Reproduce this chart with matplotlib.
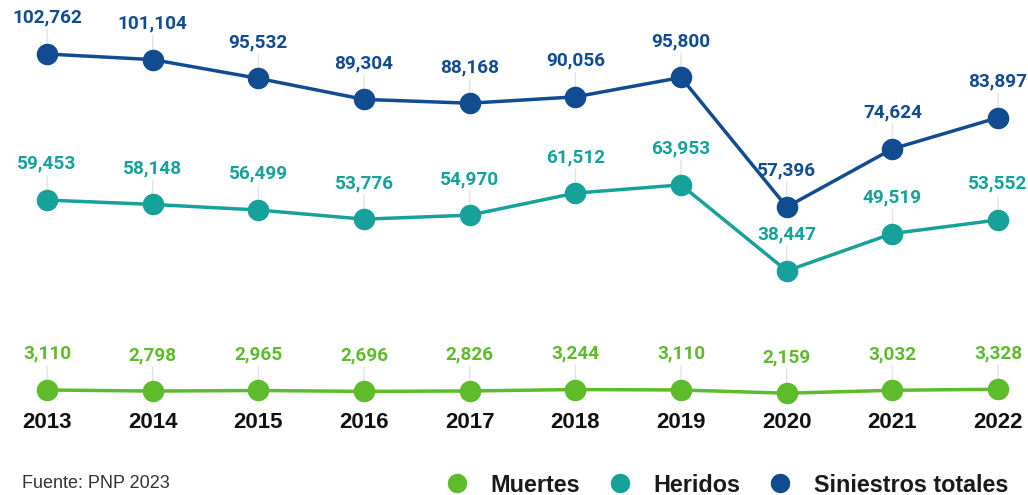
import matplotlib
matplotlib.use("Agg")
import matplotlib.pyplot as plt
from matplotlib.lines import Line2D

# Datos
anios = [2013, 2014, 2015, 2016, 2017, 2018, 2019, 2020, 2021, 2022]
siniestros = [102762, 101104, 95532, 89304, 88168, 90056, 95800, 57396, 74624, 83897]
heridos = [59453, 58148, 56499, 53776, 54970, 61512, 63953, 38447, 49519, 53552]
muertes = [3110, 2798, 2965, 2696, 2826, 3244, 3110, 2159, 3032, 3328]

AZUL = "#114c91"
TEAL = "#17a19b"
VERDE = "#5dbb2c"
GUIA = "#e3e3e3"

fig = plt.figure(figsize=(10.28, 4.95), dpi=100)
ax = fig.add_axes([0, 0, 1, 1])
ax.set_xlim(2012.555, 2022.283)
ax.set_ylim(-28030, 118780)
ax.axis("off")

series = [
    (siniestros, AZUL, "Siniestros totales"),
    (heridos, TEAL, "Heridos"),
    (muertes, VERDE, "Muertes"),
]

for valores, color, nombre in series:
    ax.plot(anios, valores, color=color, lw=2.5, marker="o", markersize=14.5,
            zorder=3, solid_capstyle="round")
    for a, v in zip(anios, valores):
        ax.annotate(f"{v:,}", xy=(a, v), xytext=(0, 26), textcoords="offset points",
                    ha="center", va="center", color=color, fontsize=13.7,
                    fontweight="bold", family="Roboto",
                    arrowprops=dict(arrowstyle="-", color=GUIA, lw=1,
                                    shrinkA=0, shrinkB=7.5),
                    zorder=2)

# Etiquetas de años
for a in anios:
    ax.text(a, 1 - 422 / 495, str(a), transform=ax.get_xaxis_transform(), ha="center",
            va="center", fontsize=16, fontweight="bold", family="Liberation Sans",
            color="#111111")

# Leyenda
legenda = [
    Line2D([0], [0], marker="o", color="w", markerfacecolor=VERDE, markersize=15, label="Muertes"),
    Line2D([0], [0], marker="o", color="w", markerfacecolor=TEAL, markersize=15, label="Heridos"),
    Line2D([0], [0], marker="o", color="w", markerfacecolor=AZUL, markersize=15, label="Siniestros totales"),
]
leg = ax.legend(handles=legenda, loc="center right", bbox_to_anchor=(0.99, 0.02),
                ncol=3, frameon=False, handlelength=1.0, handletextpad=0.95,
                columnspacing=1.2, borderaxespad=0,
                prop={"family": "Liberation Sans", "weight": "bold", "size": 16.8})
for t in leg.get_texts():
    t.set_color("#1a1a1a")

fig.text(0.021, 0.006, "Fuente: PNP 2023", ha="left", va="bottom",
         fontsize=13, family="Liberation Sans", color="#333333")

fig.savefig("out.png", dpi=100)
